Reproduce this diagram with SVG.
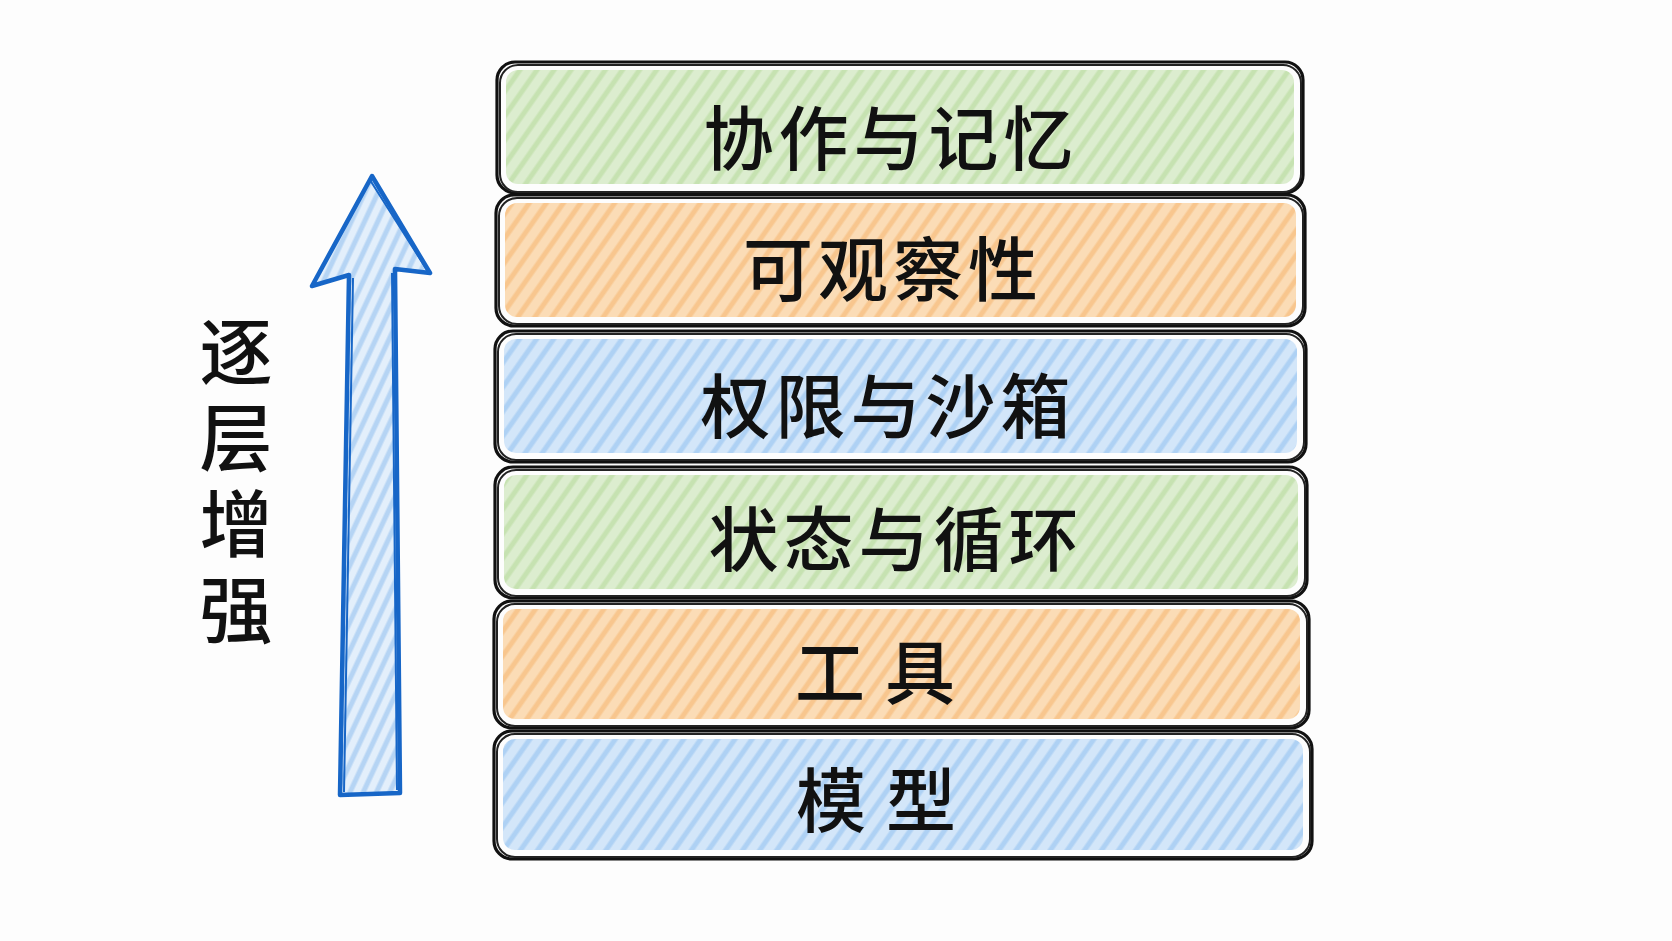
<svg xmlns="http://www.w3.org/2000/svg" width="1672" height="941" viewBox="0 0 1672 941">
<defs>
<pattern id="hg" width="14" height="14" patternUnits="userSpaceOnUse" patternTransform="rotate(-55)">
<rect width="14" height="14" fill="#dcedcf"/><line x1="0" y1="4" x2="14" y2="4" stroke="#c6e2b1" stroke-width="5"/></pattern>
<pattern id="ho" width="14" height="14" patternUnits="userSpaceOnUse" patternTransform="rotate(-55)">
<rect width="14" height="14" fill="#fbdcb6"/><line x1="0" y1="4" x2="14" y2="4" stroke="#f8c68e" stroke-width="5"/></pattern>
<pattern id="hb" width="14" height="14" patternUnits="userSpaceOnUse" patternTransform="rotate(-55)">
<rect width="14" height="14" fill="#d3e6f9"/><line x1="0" y1="4" x2="14" y2="4" stroke="#aed1f4" stroke-width="5"/></pattern>
<pattern id="ha" width="12" height="12" patternUnits="userSpaceOnUse" patternTransform="rotate(-65)">
<rect width="12" height="12" fill="#e3effb"/><line x1="0" y1="4" x2="12" y2="4" stroke="#b5d4f4" stroke-width="5"/></pattern>
</defs>
<style>
.b{fill:none;stroke:#111;stroke-width:3.2;stroke-linejoin:round}
.b2{fill:none;stroke:#222;stroke-width:2;stroke-linejoin:round}
.t{font-family:"Noto Sans CJK SC","Noto Sans CJK JP",sans-serif;font-weight:500;font-size:70px;fill:#111;text-anchor:middle;dominant-baseline:central;letter-spacing:5px}
.v{writing-mode:vertical-rl;letter-spacing:13px;font-size:73px}
</style>
<rect width="1672" height="941" fill="#fdfdfd"/>

<g id="arrow">
<path d="M372 176 L430 273 L396 268 L400 794 L339 794 L349 274 L312 286 Z" fill="url(#ha)" stroke="none"/>
<path d="M372 176 L430 273 L395 269 L400 793 L340 795 L349 275 L312 286 Z" fill="none" stroke="#1766c7" stroke-width="4.5" stroke-linejoin="round"/>
<path d="M370 180 L427 270 M392 273 L397 790 M344 792 L353 278" fill="none" stroke="#1766c7" stroke-width="2"/>
</g>
<g id="label-enhance">
<text class="t v" x="236" y="487">逐层增强</text>
</g>

<g id="layer-collab">
<rect x="506" y="70" width="788" height="114" rx="12" fill="url(#hg)"/>
<rect x="497" y="62" width="806" height="131" rx="18" class="b"/>
<rect x="500" y="65" width="801" height="127" rx="18" class="b2"/>
<text class="t" x="891" y="134">协作与记忆</text>
</g>
<g id="layer-observe">
<rect x="505" y="203" width="791" height="114" rx="12" fill="url(#ho)"/>
<rect x="496" y="195" width="809" height="131" rx="18" class="b"/>
<rect x="499" y="198" width="804" height="126" rx="18" class="b2"/>
<text class="t" x="893" y="265">可观察性</text>
</g>
<g id="layer-permission">
<rect x="504" y="339" width="793" height="114" rx="12" fill="url(#hb)"/>
<rect x="495" y="331" width="811" height="131" rx="18" class="b"/>
<rect x="498" y="334" width="806" height="126" rx="18" class="b2"/>
<text class="t" x="888" y="402">权限与沙箱</text>
</g>
<g id="layer-state">
<rect x="504" y="475" width="794" height="114" rx="12" fill="url(#hg)"/>
<rect x="495" y="467" width="812" height="131" rx="18" class="b"/>
<rect x="498" y="470" width="807" height="126" rx="18" class="b2"/>
<text class="t" x="896" y="535">状态与循环</text>
</g>
<g id="layer-tools">
<rect x="503" y="609" width="797" height="110" rx="12" fill="url(#ho)"/>
<rect x="494" y="601" width="815" height="127" rx="18" class="b"/>
<rect x="497" y="604" width="810" height="122" rx="18" class="b2"/>
<text class="t" x="885" y="668" style="letter-spacing:20px">工具</text>
</g>
<g id="layer-model">
<rect x="503" y="739" width="800" height="111" rx="12" fill="url(#hb)"/>
<rect x="494" y="731" width="818" height="128" rx="18" class="b"/>
<rect x="497" y="734" width="813" height="123" rx="18" class="b2"/>
<text class="t" x="886" y="796" style="letter-spacing:20px">模型</text>
</g>
</svg>
